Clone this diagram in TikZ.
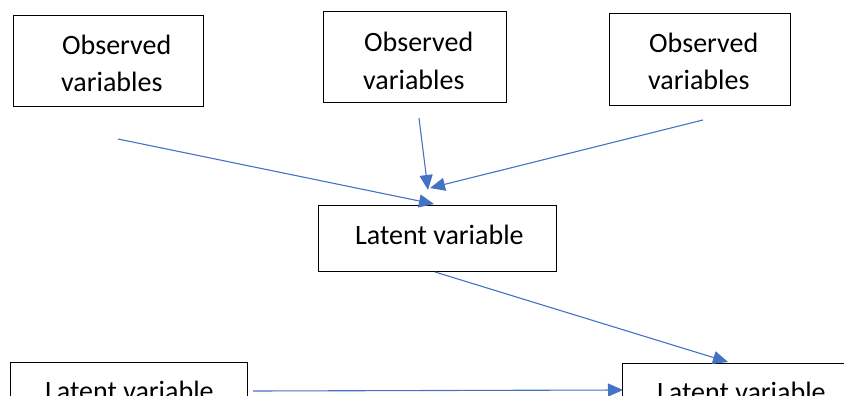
\documentclass[tikz,border=0pt]{standalone}
\usepackage{fontspec}
\setmainfont{Carlito}
\usetikzlibrary{arrows.meta}
\definecolor{arrowblue}{RGB}{68,114,196}
\tikzset{
  box/.style={draw=black, line width=1pt, rectangle, inner sep=0pt},
  lbl/.style={anchor=base west, inner sep=0pt, font=\fontsize{28}{34}\selectfont},
  conn/.style={draw=arrowblue, line width=1.1pt, -{Triangle[length=15pt,width=13pt]}}
}
\begin{document}
\begin{tikzpicture}[x=1pt,y=-1pt]
\useasboundingbox (0,0) rectangle (844,396);
\clip (0,0) rectangle (844,396);
% boxes
\node[box, minimum width=190pt, minimum height=91pt] (o1) at (108,61.5) {};
\node[box, minimum width=183pt, minimum height=91pt] (o2) at (414.5,57.5) {};
\node[box, minimum width=181pt, minimum height=92pt] (o3) at (699.5,60) {};
\node[box, minimum width=238pt, minimum height=66pt] (lm) at (437,238) {};
\node[box, minimum width=237pt, minimum height=70pt] (lb) at (128.5,397) {};
\node[box, minimum width=240pt, minimum height=70pt] (lr) at (742,398) {};
% texts
\node[lbl] (t1a) at (62,55) {Observed};
\node[lbl] (t1b) at (61,92) {variables};
\node[lbl] (t2a) at (364,52) {Observed};
\node[lbl] (t2b) at (363,89) {variables};
\node[lbl] (t3a) at (649,53) {Observed};
\node[lbl] (t3b) at (648,90) {variables};
\node[lbl] (tm) at (355,244) {Latent variable};
\node[lbl] (tb) at (45,400) {Latent variable};
\node[lbl] (tr) at (657,401) {Latent variable};
% connector end points
\coordinate (s1) at (118,139);
\coordinate (e1) at (434,204);
\coordinate (s2) at (419,118);
\coordinate (e2) at (428,190);
\coordinate (s3) at (703,120);
\coordinate (e3) at (430,188);
\coordinate (s4) at (435,272);
\coordinate (e4) at (728,362);
\coordinate (s5) at (253,391);
\coordinate (e5) at (623,390);
\draw[conn] (s1) -- (e1);
\draw[conn] (s2) -- (e2);
\draw[conn] (s3) -- (e3);
\draw[conn] (s4) -- (e4);
\draw[conn] (s5) -- (e5);
\end{tikzpicture}
\end{document}
